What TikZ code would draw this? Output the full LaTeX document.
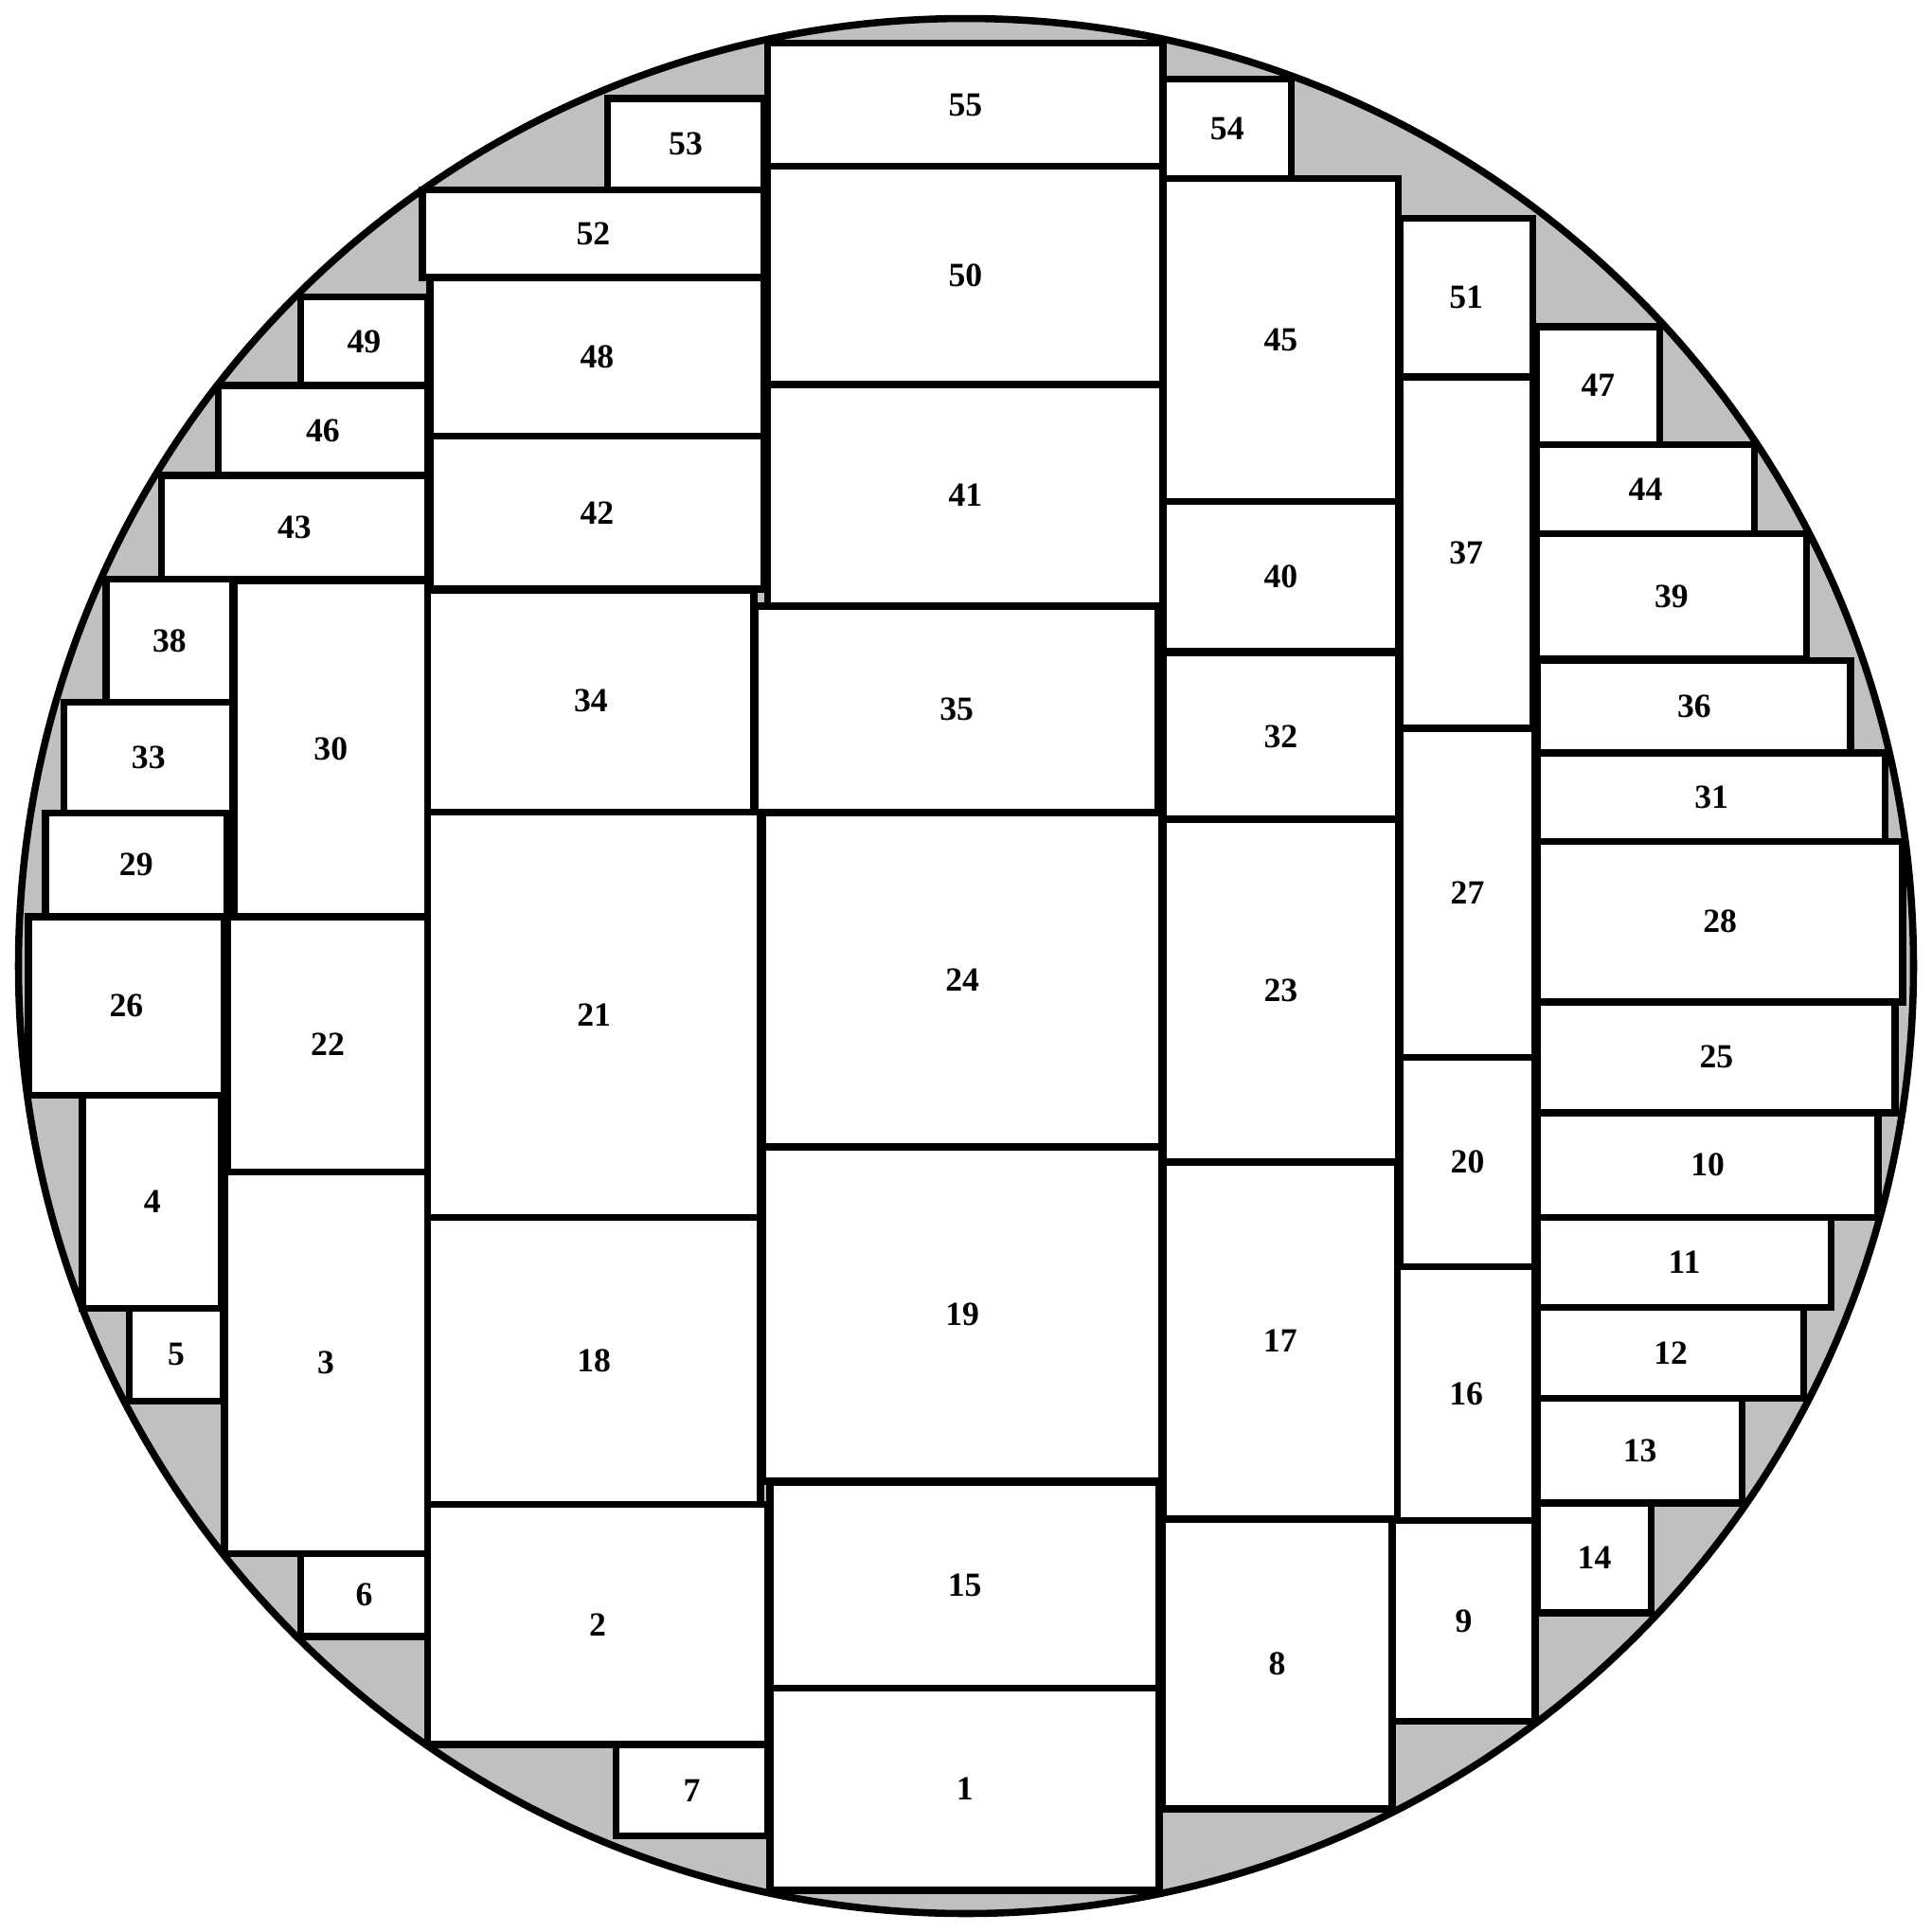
\documentclass[tikz,border=0pt]{standalone}
\usepackage{fontspec}
\setmainfont{Liberation Serif}
\definecolor{chipgray}{RGB}{192,192,192}
\tikzset{box/.style={draw=black,fill=white,line width=0.58mm,inner sep=0pt,font=\fontsize{7.8}{9}\selectfont\bfseries}}
\newcommand\bx[5]{\node[box,minimum width={(#4-#2)*0.1mm},minimum height={(#5-#3)*0.1mm}] (r#1) at ({(#2+#4)/2},{(#3+#5)/2}) {#1};}
\begin{document}
\begin{tikzpicture}[x=0.1mm,y=-0.1mm]
\fill[white] (0,0) rectangle (1568,1568);
\useasboundingbox (0,0) rectangle (1568,1568);
\fill[fill=chipgray] (784,784) circle[radius=769];
% centre column
\bx{55}{623}{35}{944}{135}
\bx{50}{623}{135}{944}{312}
\bx{41}{623}{312}{944}{492}
\bx{35}{613}{492}{940}{659}
\bx{24}{619}{660}{943}{931}
\bx{19}{619}{931}{943}{1202}
\bx{15}{625}{1203}{941}{1370}
\bx{1}{625}{1370}{941}{1534}
% left of centre
\bx{53}{493}{80}{620}{154}
\bx{52}{343}{154}{620}{225}
\bx{48}{349}{225}{620}{354}
\bx{42}{349}{354}{620}{478}
\bx{34}{347}{479}{612}{659}
\bx{21}{347}{659}{617}{988}
\bx{18}{347}{988}{617}{1221}
\bx{2}{347}{1221}{623}{1416}
\bx{7}{500}{1416}{623}{1490}
% next column
\bx{49}{244}{241}{347}{313}
\bx{46}{177}{313}{347}{386}
\bx{43}{131}{386}{347}{470}
\bx{30}{190}{471}{347}{744}
\bx{22}{185}{744}{347}{951}
\bx{3}{182}{951}{347}{1261}
\bx{6}{244}{1261}{347}{1328}
% leftmost
\bx{38}{86}{470}{189}{570}
\bx{33}{52}{570}{189}{660}
\bx{29}{37}{660}{184}{744}
\bx{26}{23}{744}{182}{889}
\bx{4}{67}{889}{180}{1062}
\bx{5}{105}{1062}{181}{1137}
% right of centre
\bx{54}{944}{64}{1048}{145}
\bx{45}{944}{145}{1135}{407}
\bx{40}{944}{407}{1135}{529}
\bx{32}{944}{530}{1135}{665}
\bx{23}{944}{665}{1135}{943}
\bx{17}{944}{943}{1134}{1233}
\bx{8}{943}{1233}{1130}{1468}
% next column
\bx{51}{1136}{177}{1244}{306}
\bx{37}{1136}{306}{1244}{591}
\bx{27}{1136}{591}{1246}{858}
\bx{20}{1136}{858}{1246}{1028}
\bx{16}{1134}{1028}{1246}{1234}
\bx{9}{1130}{1234}{1246}{1397}
% rightmost
\bx{47}{1247}{265}{1347}{361}
\bx{44}{1247}{361}{1424}{433}
\bx{39}{1247}{433}{1466}{535}
\bx{36}{1248}{536}{1502}{611}
\bx{31}{1248}{611}{1530}{683}
\bx{28}{1248}{683}{1544}{813}
\bx{25}{1248}{813}{1538}{903}
\bx{10}{1248}{903}{1524}{988}
\bx{11}{1248}{988}{1486}{1061}
\bx{12}{1248}{1061}{1464}{1135}
\bx{13}{1248}{1135}{1414}{1220}
\bx{14}{1248}{1220}{1340}{1309}
\draw[line width=0.58mm] (784,784) circle[radius=769];
\end{tikzpicture}
\end{document}
